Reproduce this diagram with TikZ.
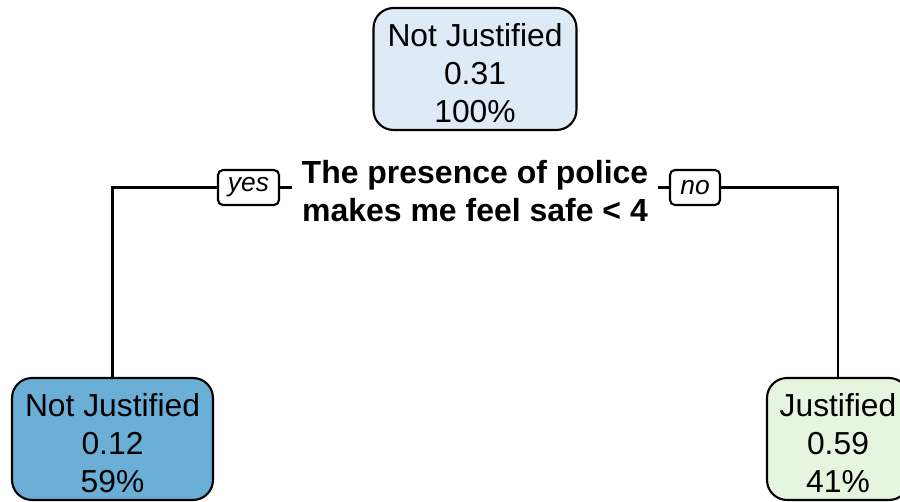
\documentclass[tikz,border=0pt]{standalone}
\usepackage{fontspec}
\setmainfont{Liberation Sans}
\definecolor{blueA}{HTML}{DEEBF7}
\definecolor{blueC}{HTML}{6BAED6}
\definecolor{greenA}{HTML}{E5F5E0}
\newcommand\toprule{\rule{0pt}{0.62cm}}
\tikzset{
  leaf/.style={draw,rounded corners=0.4cm,line width=1.2pt,align=center,
    minimum height=2.44cm,inner sep=0pt,font=\fontsize{18.1}{21.8}\selectfont},
  yesno/.style={draw,rounded corners=0.1cm,line width=1.2pt,inner sep=0pt,
    minimum height=0.7cm,font=\fontsize{15}{17}\selectfont\itshape},
  splitlabel/.style={align=center,inner xsep=0.18cm,inner ysep=0pt,
    font=\fontsize{18.2}{21.6}\selectfont\bfseries},
  branch/.style={line width=1.2pt}
}
\begin{document}
\begin{tikzpicture}[x=0.02cm,y=-0.02cm]
  \useasboundingbox (0,0) rectangle (900,502);
  \clip (0,0) rectangle (900,502);
  % nodes
  \node[leaf,fill=blueA,minimum width=4.06cm] (root) at (475,69) {\toprule Not Justified\\0.31\\100\%};
  \node[splitlabel] (q) at (475,191) {The presence of police\\makes me feel safe < 4};
  \node[yesno,minimum width=1.22cm] (yes) at (248.5,187.5) {yes};
  \node[yesno,minimum width=1.0cm] (no) at (695,187.5) {no};
  \node[leaf,fill=blueC,minimum width=4.02cm] (left) at (112.5,439) {\toprule Not Justified\\0.12\\59\%};
  \node[leaf,fill=greenA,minimum width=2.84cm] (right) at (838,439) {\toprule Justified\\0.59\\41\%};
  % branches
  \draw[branch] (yes.east) -- (yes.east -| q.west);
  \draw[branch] (no.west) -- (no.west -| q.east);
  \draw[branch] (yes.west) -| (left.north);
  \draw[branch] (no.east) -| (right.north);
\end{tikzpicture}
\end{document}
